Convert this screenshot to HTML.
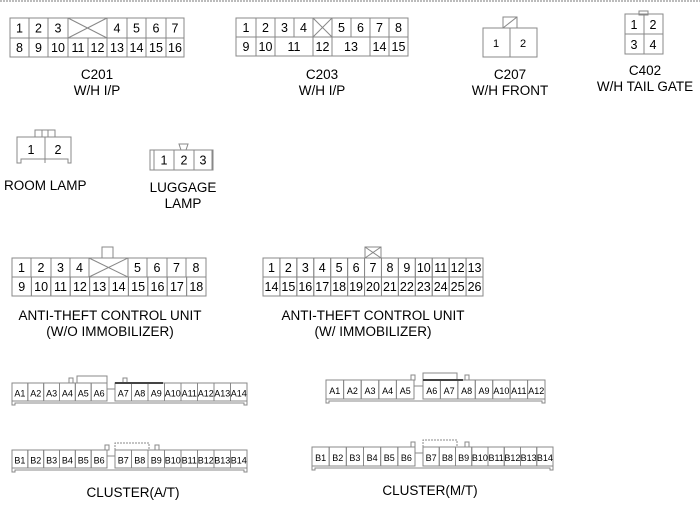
<!DOCTYPE html>
<html><head><meta charset="utf-8"><style>
html,body{margin:0;padding:0;background:#fff;width:700px;height:525px;overflow:hidden}
svg{display:block}
text{font-family:"Liberation Sans",Arial,sans-serif;fill:#000}
</style></head><body>
<svg id="s" width="700" height="525" xmlns="http://www.w3.org/2000/svg">
<line x1="0" y1="1" x2="700" y2="1" stroke="#777" stroke-dasharray="2,1"/>
</svg>
<script>
var s=document.getElementById('s'),o='';
var LS=13.5;
function R(x,y,w,h,c){o+='<rect x="'+x+'" y="'+y+'" width="'+w+'" height="'+h+'" fill="none" stroke="'+(c||'#888')+'" stroke-width="1"/>';}
function L(a,b,c,d,col,w){o+='<line x1="'+a+'" y1="'+b+'" x2="'+c+'" y2="'+d+'" stroke="'+(col||'#888')+'" stroke-width="'+(w||1)+'"/>';}
function T(x,y,t,sz,anc){o+='<text x="'+x+'" y="'+y+'" font-size="'+(sz||LS)+'" text-anchor="'+(anc||'middle')+'">'+t+'</text>';}
function X(x1,y1,x2,y2){L(x1,y1,x2,y2);L(x1,y2,x2,y1);}
function row(edges,labels,y1,y2,sz){for(var i=0;i<labels.length;i++){var a=edges[i],b=edges[i+1];R(a,y1,b-a,y2-y1);if(labels[i]===null)X(a,y1,b,y2);else if(labels[i]!=='')T((a+b)/2,y1+(y2-y1)/2+4.5,labels[i],sz);}}
function even(x1,x2,n){var e=[];for(var i=0;i<=n;i++)e.push(x1+(x2-x1)*i/n);return e;}
// C201
row([10,29,48,68,107,127,146,166,184],['1','2','3',null,'4','5','6','7'],18,38,12.5);
row([10,29,48,68,88,107,127,146,166,184],['8','9','10','11','12','13','14','15','16'],38,57,12.5);
T(97,79,'C201');T(97,95,'W/H I/P');
// C203
row([236,256,275,294,313,332,351,370,389,408],['1','2','3','4',null,'5','6','7','8'],18,37,12.5);
row([236,256,275,313,332,370,389,408],['9','10','11','12','13','14','15'],37,56,12.5);
T(322,79,'C203');T(322,95,'W/H I/P');
// C207
R(503,17,14,11);L(503,28,517,17);
R(483,28,27,29);R(510,28,27,29);
T(496,47,'1',11);T(523,47,'2',11);
T(510,79,'C207');T(510,95,'W/H FRONT');
// C402
R(639,11,9,4);
R(625,14,19,20);R(644,14,19,20);R(625,34,19,20);R(644,34,19,20);
T(634,29,'1',12.5);T(653,29,'2',12.5);T(634,49,'3',12.5);T(653,49,'4',12.5);
T(645,75,'C402');T(645,91,'W/H TAIL GATE');
// Room lamp
R(35,130,20,7);L(42,130,42,137);L(48,130,48,137);
o+='<path d="M17,137 H71 V163 H68 V159 H21 V163 H17 Z" fill="none" stroke="#888"/>';
L(45,137,45,163);T(31,154,'1',12.5);T(58,154,'2',12.5);
T(4,190,'ROOM LAMP',LS,'start');
// Luggage lamp
o+='<path d="M179,144 H188 L186,150 H181 Z" fill="none" stroke="#888"/>';
R(150,150,63,20);row([154,174,194,212],['1','2','3'],150,170,12.5);
T(183,192,'LUGGAGE');T(183,208,'LAMP');
// Anti-theft 1
R(102,247,11,11);
row([12,31,51,70,89,128,147,167,186,206],['1','2','3','4',null,'5','6','7','8'],258,277,12.5);
row(even(12,206,10),['9','10','11','12','13','14','15','16','17','18'],277,296,12.5);
T(110,320,'ANTI-THEFT CONTROL UNIT');T(110,336,'(W/O IMMOBILIZER)');
// Anti-theft 2
R(365,247,16,11);X(365,247,381,258);
var e2=even(263,483,13),l1=[],l2=[];for(var i=1;i<=13;i++){l1.push(''+i);l2.push(''+(i+13));}
row(e2,l1,258,277,12.5);row(e2,l2,277,296,12.5);
T(373,320,'ANTI-THEFT CONTROL UNIT');T(373,336,'(W/ IMMOBILIZER)');
function clus(x1,xg1,xg2,x2,y1,y2,p,n1,n2){
 var a=[],b=[];for(var i=1;i<=n1;i++)a.push(p+i);for(var i=n1+1;i<=n2;i++)b.push(p+i);
 row(even(x1,xg1,n1),a,y1,y2,9);row(even(xg2,x2,n2-n1),b,y1,y2,9);
 o+='<path d="M'+x1+','+y2+' V'+(y2+4)+' H'+(x1+3)+' V'+(y2+2)+' H'+(x2-3)+' V'+(y2+4)+' H'+x2+' V'+y2+'" fill="none" stroke="#888"/>';
 L(xg1,y1+6,xg2,y1+6,'#888');
}
clus(12,107,115,247,383,401,'A',6,14);
R(69,378,4,5);R(123,378,4,5);o+='<path d="M77,383 V376 H107 V383" fill="none" stroke="#888"/>';L(115,383,163,383,'#444',2);
clus(12,107,115,247,450,468,'B',6,14);
R(105,445,4,5);R(155,445,4,5);o+='<path d="M115,450 V443 H149 V450" fill="none" stroke="#888" stroke-dasharray="2,1"/>';
T(133,497,'CLUSTER(A/T)');
clus(326,414,423,545,380,399,'A',5,12);
R(411,375,4,5);R(465,375,4,5);o+='<path d="M423,380 V373 H457 V380" fill="none" stroke="#888"/>';L(423,380,463,380,'#444',2);
clus(312,415,423,553,447,466,'B',6,14);
R(411,442,4,5);R(465,442,4,5);o+='<path d="M423,447 V440 H457 V447" fill="none" stroke="#888" stroke-dasharray="2,1"/>';
T(430,495,'CLUSTER(M/T)');
s.innerHTML+=o;
</script>
</body></html>
